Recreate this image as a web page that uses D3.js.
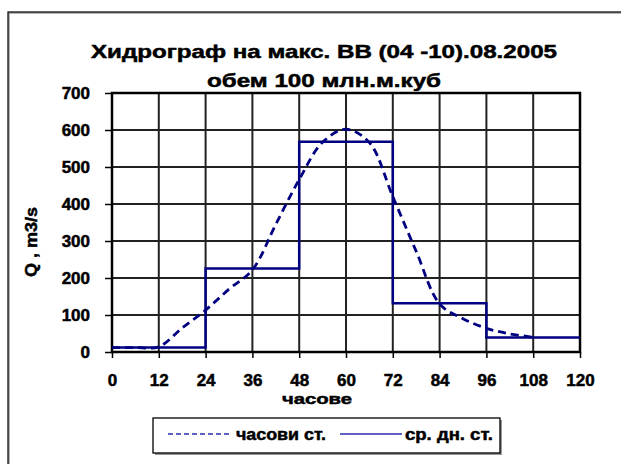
<!DOCTYPE html>
<html lang="bg">
<head>
<meta charset="UTF-8">
<title>Хидрограф</title>
<script src="https://d3js.org/d3.v7.min.js"></script>
<style>
  body { margin: 0; background: #fff; }
  svg text { font-family: "Liberation Sans", Arial, sans-serif; font-weight: bold; fill: #000;
             stroke: #000; stroke-width: 0.5; }
</style>
</head>
<body>
<div id="chart"></div>
<script>
// hours and values
const hourTicks = [0, 12, 24, 36, 48, 60, 72, 84, 96, 108, 120];
const qTicks = [0, 100, 200, 300, 400, 500, 600, 700];

const hourlyHours = [0, 6, 12, 18, 24, 30, 36, 42, 48, 54, 60, 66, 72, 78, 84, 90, 96, 102, 108];
const hourlyQ = [12, 12, 14, 65, 113, 170, 222, 345, 466, 567, 602, 566, 420, 272, 130, 90, 64, 49, 40];

const dailyHours = [0, 24, 48, 72, 96, 120];
const dailyQ = [12, 226, 568, 132, 39, 39];

const titleLines = ["Хидрограф на макс. ВВ (04 -10).08.2005", "обем 100 млн.м.куб"];
const legendLabels = ["часови ст.", "ср. дн. ст."];

const W = 621, H = 464;
const margin = { top: 93, right: 41, bottom: 112, left: 112 };
const width = W - margin.left - margin.right;
const height = H - margin.top - margin.bottom;
const blue = "#000080";

const svg = d3.select("#chart").append("svg")
  .attr("width", W).attr("height", H);

// outer frame (runs off the right and bottom edges)
svg.append("rect").attr("x", 9).attr("y", 13).attr("width", 700).attr("height", 600)
  .attr("fill", "none").attr("stroke", "#999").attr("stroke-width", 1.5);
svg.append("rect").attr("x", 8).attr("y", 12).attr("width", 700).attr("height", 600)
  .attr("fill", "none").attr("stroke", "#000").attr("stroke-width", 1.2);

// title
svg.append("text").attr("x", 324).attr("y", 58).attr("text-anchor", "middle")
  .attr("font-size", 19).attr("textLength", 466).attr("lengthAdjust", "spacingAndGlyphs")
  .text(titleLines[0]);
svg.append("text").attr("x", 324).attr("y", 87).attr("text-anchor", "middle")
  .attr("font-size", 19).attr("textLength", 234).attr("lengthAdjust", "spacingAndGlyphs")
  .text(titleLines[1]);

const g = svg.append("g").attr("transform", `translate(${margin.left},${margin.top})`);

const x = d3.scaleLinear().domain([0, 120]).range([0, width]);
const y = d3.scaleLinear().domain([0, 700]).range([height, 0]);

// grid
g.append("g").selectAll("line").data(hourTicks).join("line")
  .attr("x1", d => x(d)).attr("x2", d => x(d)).attr("y1", 0).attr("y2", height)
  .attr("stroke", "#222").attr("stroke-width", 2);
g.append("g").selectAll("line").data(qTicks).join("line")
  .attr("x1", 0).attr("x2", width).attr("y1", d => y(d)).attr("y2", d => y(d))
  .attr("stroke", "#222").attr("stroke-width", 2);

// axes
const xAxis = g.append("g").attr("transform", `translate(0,${height})`)
  .call(d3.axisBottom(x).tickValues(hourTicks).tickSize(6).tickPadding(16));
const yAxis = g.append("g")
  .call(d3.axisLeft(y).tickValues(qTicks).tickSize(7).tickPadding(15));
[xAxis, yAxis].forEach(a => {
  a.select(".domain").remove();
  a.selectAll("line").attr("stroke", "#000").attr("stroke-width", 1.5);
  a.selectAll("text").attr("font-size", 17).attr("font-family", "Liberation Sans, Arial, sans-serif")
    .attr("font-weight", "bold").attr("fill", "#000");
});

// plot border
g.append("rect").attr("width", width).attr("height", height)
  .attr("fill", "none").attr("stroke", "#000").attr("stroke-width", 2.5);

// series
const hourly = hourlyHours.map((h, i) => [h, hourlyQ[i]]);
const daily = dailyHours.map((h, i) => [h, dailyQ[i]]);

g.append("path").datum(daily)
  .attr("d", d3.line().x(d => x(d[0])).y(d => y(d[1])).curve(d3.curveStepAfter))
  .attr("fill", "none").attr("stroke", blue).attr("stroke-width", 2.5);

g.append("path").datum(hourly)
  .attr("d", d3.line().x(d => x(d[0])).y(d => y(d[1])).curve(d3.curveCatmullRom))
  .attr("fill", "none").attr("stroke", blue).attr("stroke-width", 2.8)
  .attr("stroke-dasharray", "8,5");

// axis titles
svg.append("text").attr("x", 317).attr("y", 404).attr("text-anchor", "middle")
  .attr("font-size", 15).attr("textLength", 70).attr("lengthAdjust", "spacingAndGlyphs")
  .text("часове");
svg.append("text").attr("transform", "translate(37,242) rotate(-90)")
  .attr("text-anchor", "middle").attr("font-size", 17)
  .attr("textLength", 70).attr("lengthAdjust", "spacingAndGlyphs").text("Q , m3/s");

// legend
const lg = svg.append("g");
lg.append("rect").attr("x", 155).attr("y", 420).attr("width", 347).attr("height", 35).attr("fill", "#999");
lg.append("rect").attr("x", 153).attr("y", 418).attr("width", 347).attr("height", 35)
  .attr("fill", "#fff").attr("stroke", "#000").attr("stroke-width", 1.3);
lg.append("line").attr("x1", 168).attr("x2", 229).attr("y1", 434).attr("y2", 434)
  .attr("stroke", "#6060c0").attr("stroke-width", 2).attr("stroke-dasharray", "5,3");
lg.append("text").attr("x", 236).attr("y", 440).attr("font-size", 16)
  .attr("textLength", 90).attr("lengthAdjust", "spacingAndGlyphs").text(legendLabels[0]);
lg.append("line").attr("x1", 340).attr("x2", 402).attr("y1", 434).attr("y2", 434)
  .attr("stroke", "#6060c0").attr("stroke-width", 2);
lg.append("text").attr("x", 405).attr("y", 440).attr("font-size", 16)
  .attr("textLength", 88).attr("lengthAdjust", "spacingAndGlyphs").text(legendLabels[1]);
</script>
</body>
</html>
